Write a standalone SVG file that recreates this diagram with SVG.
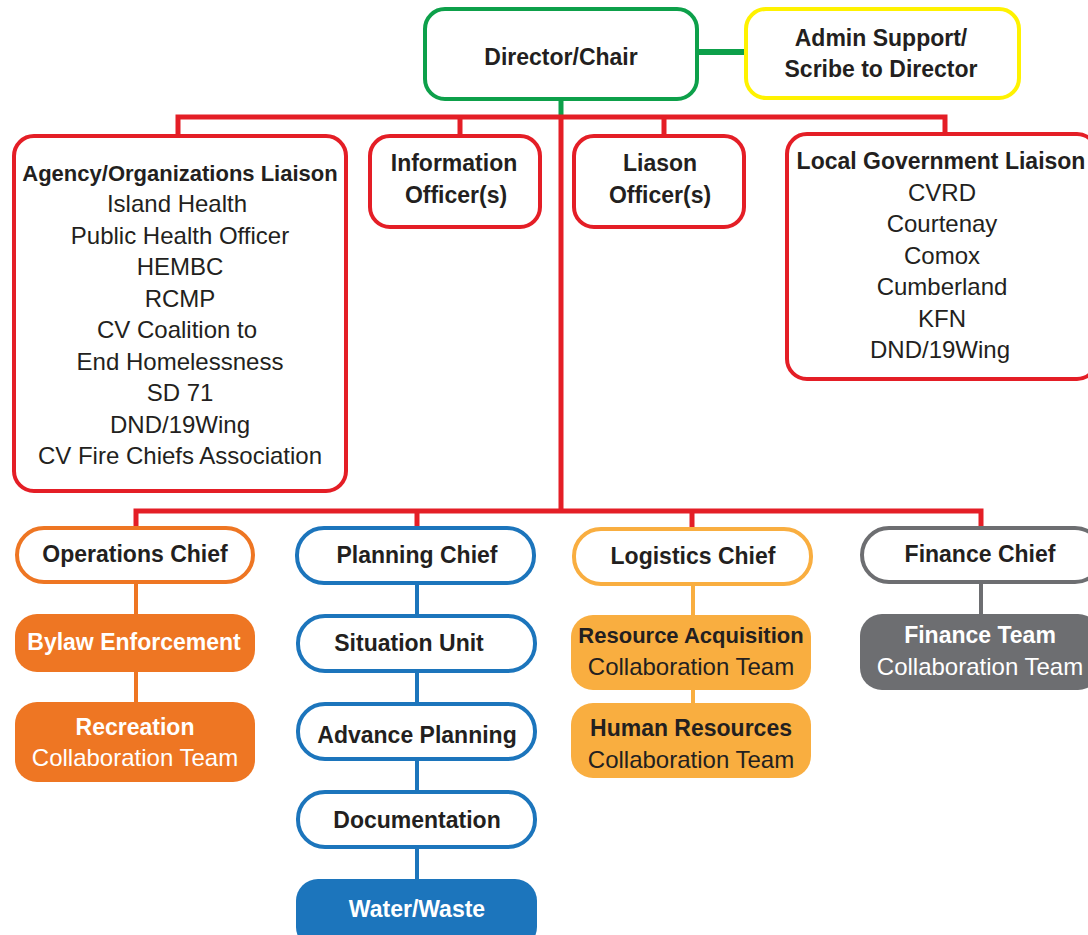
<svg xmlns="http://www.w3.org/2000/svg" width="1088" height="935" viewBox="0 0 1088 935">
<style>
text{font-family:"Liberation Sans",Arial,sans-serif;text-anchor:middle;fill:#231F20}
.r{font-size:24px}
.h{font-size:23px;font-weight:bold}
.t{font-size:22px}
.w{fill:#fff}
.box{fill:#fff;stroke-width:4}
.red{stroke:#E41E26}
.redl{stroke:#E41E26;stroke-width:5;fill:none}
</style>
<rect width="1088" height="935" fill="#fff"/>
<g id="connectors" fill="none">
<path d="M698 52H745" stroke="#0DA04A" stroke-width="6"/>
<path d="M561 100V117" stroke="#0DA04A" stroke-width="5"/>
<path class="redl" d="M178 135V117H945V135M460 117V135M664 117V135M561 117V511"/>
<path class="redl" d="M136 527V511H981V527M417 511V527M692 511V527"/>
<path d="M136 583V702" stroke="#EE7623" stroke-width="4"/>
<path d="M417 584V879" stroke="#1C75BC" stroke-width="4"/>
<path d="M693 584V703" stroke="#F9AE40" stroke-width="4"/>
<path d="M981 583V614" stroke="#6D6E71" stroke-width="4"/>
</g>
<g id="director"><rect class="box" x="425" y="9" width="272" height="90" rx="20" stroke="#0DA04A"/><text class="h" x="561" y="65">Director/Chair</text></g>
<g id="admin"><rect class="box" x="746" y="9" width="273" height="89" rx="20" stroke="#FFF200"/><text class="h" x="881" y="46">Admin Support/</text><text class="h" x="881" y="77">Scribe to Director</text></g>
<g id="agency"><rect class="box red" x="14" y="136" width="332" height="355" rx="20"/>
<text class="h t" x="180" y="181">Agency/Organizations Liaison</text>
<text class="r" x="177" y="212">Island Health</text>
<text class="r" x="180" y="244">Public Health Officer</text>
<text class="r" x="180" y="275">HEMBC</text>
<text class="r" x="180" y="307">RCMP</text>
<text class="r" x="177" y="338">CV Coalition to</text>
<text class="r" x="180" y="370">End Homelessness</text>
<text class="r" x="180" y="401">SD 71</text>
<text class="r" x="180" y="433">DND/19Wing</text>
<text class="r" x="180" y="464">CV Fire Chiefs Association</text></g>
<g id="info"><rect class="box red" x="370" y="136" width="170" height="91" rx="20"/><text class="h" x="454" y="171">Information</text><text class="h" x="456" y="203">Officer(s)</text></g>
<g id="liason"><rect class="box red" x="574" y="136" width="170" height="91" rx="20"/><text class="h" x="660" y="171">Liason</text><text class="h" x="660" y="203">Officer(s)</text></g>
<g id="localgov"><rect class="box red" x="787" y="134" width="310" height="245" rx="20"/>
<text class="h" x="941" y="169">Local Government Liaison</text>
<text class="r" x="942" y="201">CVRD</text>
<text class="r" x="942" y="232">Courtenay</text>
<text class="r" x="942" y="264">Comox</text>
<text class="r" x="942" y="295">Cumberland</text>
<text class="r" x="942" y="327">KFN</text>
<text class="r" x="940" y="358">DND/19Wing</text></g>
<g id="ops"><rect class="box" x="17" y="528" width="236" height="54" rx="27" stroke="#EE7623"/><text class="h" x="135" y="562">Operations Chief</text></g>
<g id="bylaw"><rect x="15" y="614" width="240" height="58" rx="22" fill="#EE7623"/><text class="h w" x="134" y="650">Bylaw Enforcement</text></g>
<g id="recreation"><rect x="15" y="702" width="240" height="80" rx="22" fill="#EE7623"/><text class="h w" x="135" y="735">Recreation</text><text class="r w" x="135" y="766">Collaboration Team</text></g>
<g id="planning"><rect class="box" x="297" y="528" width="237" height="55" rx="27" stroke="#1C75BC"/><text class="h" x="417" y="563">Planning Chief</text></g>
<g id="situation"><rect class="box" x="298" y="616" width="237" height="55" rx="27" stroke="#1C75BC"/><text class="h" x="409" y="651">Situation Unit</text></g>
<g id="advance"><rect class="box" x="298" y="704" width="237" height="55" rx="27" stroke="#1C75BC"/><text class="h" x="417" y="743">Advance Planning</text></g>
<g id="documentation"><rect class="box" x="298" y="792" width="237" height="55" rx="27" stroke="#1C75BC"/><text class="h" x="417" y="828">Documentation</text></g>
<g id="water"><rect x="296" y="879" width="241" height="70" rx="22" fill="#1C75BC"/><text class="h w" x="417" y="917">Water/Waste</text></g>
<g id="logistics"><rect class="box" x="574" y="529" width="237" height="55" rx="27" stroke="#F9AE40"/><text class="h" x="693" y="564">Logistics Chief</text></g>
<g id="resource"><rect x="571" y="615" width="240" height="75" rx="22" fill="#F9AE40"/><text class="h t" x="691" y="643">Resource Acquisition</text><text class="r" x="691" y="675">Collaboration Team</text></g>
<g id="hr"><rect x="571" y="703" width="240" height="75" rx="22" fill="#F9AE40"/><text class="h" x="691" y="736">Human Resources</text><text class="r" x="691" y="768">Collaboration Team</text></g>
<g id="financechief"><rect class="box" x="862" y="528" width="240" height="54" rx="27" stroke="#6D6E71"/><text class="h" x="980" y="562">Finance Chief</text></g>
<g id="financeteam"><rect x="860" y="614" width="240" height="76" rx="22" fill="#6D6E71"/><text class="h w" x="980" y="643">Finance Team</text><text class="r w" x="980" y="675">Collaboration Team</text></g>
</svg>
